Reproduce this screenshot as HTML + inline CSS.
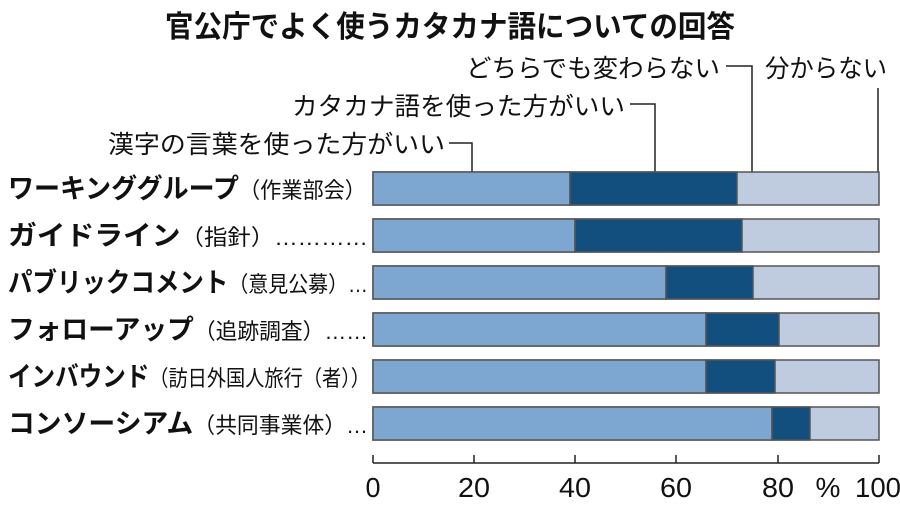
<!DOCTYPE html>
<html><head><meta charset="utf-8"><style>
body{margin:0;background:#fff;}
svg text{font-family:"Liberation Sans","Noto Sans CJK JP",sans-serif;fill:#111;}
</style></head><body>
<svg width="900" height="502" viewBox="0 0 900 502" xmlns="http://www.w3.org/2000/svg">
<text x="450" y="37" font-size="30" font-weight="bold" text-anchor="middle" textLength="570" lengthAdjust="spacingAndGlyphs">官公庁でよく使うカタカナ語についての回答</text>
<g font-size="25">
<text x="466" y="77" textLength="254" lengthAdjust="spacingAndGlyphs">どちらでも変わらない</text>
<text x="765" y="77" textLength="122" lengthAdjust="spacingAndGlyphs">分からない</text>
<text x="292" y="115" textLength="333" lengthAdjust="spacingAndGlyphs">カタカナ語を使った方がいい</text>
<text x="108" y="153" textLength="337" lengthAdjust="spacingAndGlyphs">漢字の言葉を使った方がいい</text>
</g>
<g stroke="#222" stroke-width="1.5" fill="none">
<polyline points="449,143 472,143 472,172"/>
<polyline points="630,104 655,104 655,172"/>
<polyline points="726,66 752,66 752,172"/>
<line x1="878" y1="88" x2="878" y2="172"/>
</g>
<g stroke="#555" stroke-width="1.5">
<rect x="373" y="172" width="506" height="33" fill="#bfcce0"/>
<rect x="373" y="172" width="197" height="33" fill="#7da7d0"/>
<rect x="570" y="172" width="167" height="33" fill="#134f7e"/>
<rect x="373" y="219" width="506" height="33" fill="#bfcce0"/>
<rect x="373" y="219" width="202" height="33" fill="#7da7d0"/>
<rect x="575" y="219" width="167" height="33" fill="#134f7e"/>
<rect x="373" y="266" width="506" height="33" fill="#bfcce0"/>
<rect x="373" y="266" width="293" height="33" fill="#7da7d0"/>
<rect x="666" y="266" width="87" height="33" fill="#134f7e"/>
<rect x="373" y="313" width="506" height="33" fill="#bfcce0"/>
<rect x="373" y="313" width="333" height="33" fill="#7da7d0"/>
<rect x="706" y="313" width="73" height="33" fill="#134f7e"/>
<rect x="373" y="360" width="506" height="33" fill="#bfcce0"/>
<rect x="373" y="360" width="333" height="33" fill="#7da7d0"/>
<rect x="706" y="360" width="69" height="33" fill="#134f7e"/>
<rect x="373" y="407" width="506" height="33" fill="#bfcce0"/>
<rect x="373" y="407" width="399" height="33" fill="#7da7d0"/>
<rect x="772" y="407" width="38" height="33" fill="#134f7e"/>
</g>
<g stroke="#222" stroke-width="1.5">
<line x1="373" y1="463" x2="879" y2="463"/>
<line x1="373" y1="455" x2="373" y2="463"/><line x1="474" y1="455" x2="474" y2="463"/>
<line x1="575" y1="455" x2="575" y2="463"/><line x1="676" y1="455" x2="676" y2="463"/>
<line x1="778" y1="455" x2="778" y2="463"/><line x1="879" y1="455" x2="879" y2="463"/>
</g>
<g font-size="28" text-anchor="middle">
<text x="373" y="497" textLength="15" lengthAdjust="spacingAndGlyphs">0</text>
<text x="474" y="497" textLength="32" lengthAdjust="spacingAndGlyphs">20</text>
<text x="575" y="497" textLength="32" lengthAdjust="spacingAndGlyphs">40</text>
<text x="676" y="497" textLength="32" lengthAdjust="spacingAndGlyphs">60</text>
<text x="778" y="497" textLength="32" lengthAdjust="spacingAndGlyphs">80</text>
<text x="828" y="497">%</text>
<text x="878" y="497" textLength="46" lengthAdjust="spacingAndGlyphs">100</text>
</g>
<g font-size="22">
<text x="8" y="198" textLength="358" lengthAdjust="spacingAndGlyphs"><tspan font-weight="bold" font-size="27">ワーキンググループ</tspan>（作業部会）</text>
<text x="8" y="245" textLength="360" lengthAdjust="spacingAndGlyphs"><tspan font-weight="bold" font-size="27">ガイドライン</tspan>（指針）…………</text>
<text x="8" y="292" textLength="360" lengthAdjust="spacingAndGlyphs"><tspan font-weight="bold" font-size="27">パブリックコメント</tspan>（意見公募）…</text>
<text x="8" y="339" textLength="360" lengthAdjust="spacingAndGlyphs"><tspan font-weight="bold" font-size="27">フォローアップ</tspan>（追跡調査）……</text>
<text x="8" y="386" textLength="362" lengthAdjust="spacingAndGlyphs"><tspan font-weight="bold" font-size="27">インバウンド</tspan>（訪日外国人旅行（者））</text>
<text x="8" y="433" textLength="360" lengthAdjust="spacingAndGlyphs"><tspan font-weight="bold" font-size="27">コンソーシアム</tspan>（共同事業体）…</text>
</g>
</svg>
</body></html>
